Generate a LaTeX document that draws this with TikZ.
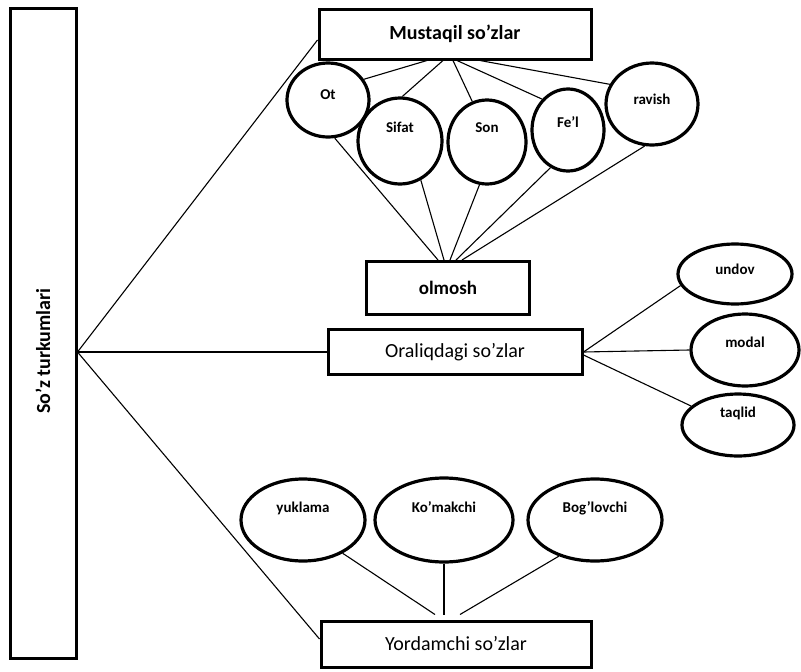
\documentclass[tikz,border=0pt]{standalone}
\usepackage{fontspec}
\setmainfont{Carlito}
\usepackage{tikz}
\usetikzlibrary{shapes.geometric}

\begin{document}
\begin{tikzpicture}[x=1pt,y=-1pt]
		{
			\def\boxw{3pt}
			\def\ovalw{3.2pt}
			\def\linew{1.1pt}
			\tikzset{
				wordbox/.style={draw, line width=\boxw, rectangle, inner sep=0pt, fill=white, font=\fontsize{20}{24}\selectfont},
				oval/.style={draw, line width=\ovalw, ellipse, inner sep=0pt, fill=white, font=\bfseries\fontsize{15}{18}\selectfont},
				link/.style={line width=\linew}
			}
			\useasboundingbox (0,0) rectangle (801,672);

			\node[wordbox, minimum width=66pt, minimum height=650pt, font=\bfseries\fontsize{20}{24}\selectfont] (turk) at (43,333) {\rotatebox{90}{So'z turkumlari\hspace*{36pt}}};
			\coordinate (fan) at ([yshift=-19pt]turk.east);

			\node[wordbox, minimum width=272pt, minimum height=50pt, font=\bfseries\fontsize{20}{24}\selectfont] (must) at (455,34) {Mustaqil so'zlar};
			\node[wordbox, minimum width=163pt, minimum height=53pt, font=\bfseries\fontsize{19}{23}\selectfont] (olm) at (448,288) {olmosh};
			\node[wordbox, minimum width=254pt, minimum height=45pt] (oral) at (455,352) {Oraliqdagi so'zlar};
			\node[wordbox, minimum width=270pt, minimum height=46pt] (yord) at (456,644) {Yordamchi so'zlar};

			\foreach \name/\x/\y/\rx/\ry/\d/\txt in {ot/328/100/41/37/11/Ot, sif/400/141/42/43/27/Sifat, son/487/142/39/42/29/Son, fel/568/130/36/41/15/Fe'l, rav/652/104/46/41/9/ravish, und/735/274/57/30/9/undov, mod/745/350/54/36/15/modal, taq/738/425/56/31/25/taqlid, yuk/303/520/62/41/25/yuklama, kom/444/520/69/42/25/Ko'makchi, bog/595/520/67/41/25/Bog'lovchi}
			{
				\node[oval, minimum width=2*\rx pt, minimum height=2*\ry pt, text depth=\d pt] (\name) at (\x,\y) {\txt};
			}

			\draw[link] (fan) -- ([yshift=-6pt]must.west);
			\draw[link] (fan) -- (oral.west);
			\draw[link] (fan) -- ([yshift=5pt]yord.west);

			\foreach \dx/\tgt in {-28/ot.30, -12/sif.87, -2/son.110, 2/fel.130, 25/rav.155}
				\draw[link] ([xshift=\dx pt]must.south) -- (\tgt);
			\foreach \src/\dx in {ot.-80/-10, sif.-62/-4, son.-100/2, fel.-115/8, rav.-100/14}
				\draw[link] (\src) -- ([xshift=\dx pt]olm.north);

			\draw[link] (oral.east) -- (und.192);
			\draw[link] (oral.east) -- (mod.west);
			\draw[link] ([yshift=-3pt]oral.east) -- (taq.158);

			\foreach \src/\dx in {yuk.-40/-21, kom.south/-12, bog.-135/4}
				\draw[link] (\src) -- ([xshift=\dx pt, yshift=5pt]yord.north);
		}
	\end{tikzpicture}
\end{document}
